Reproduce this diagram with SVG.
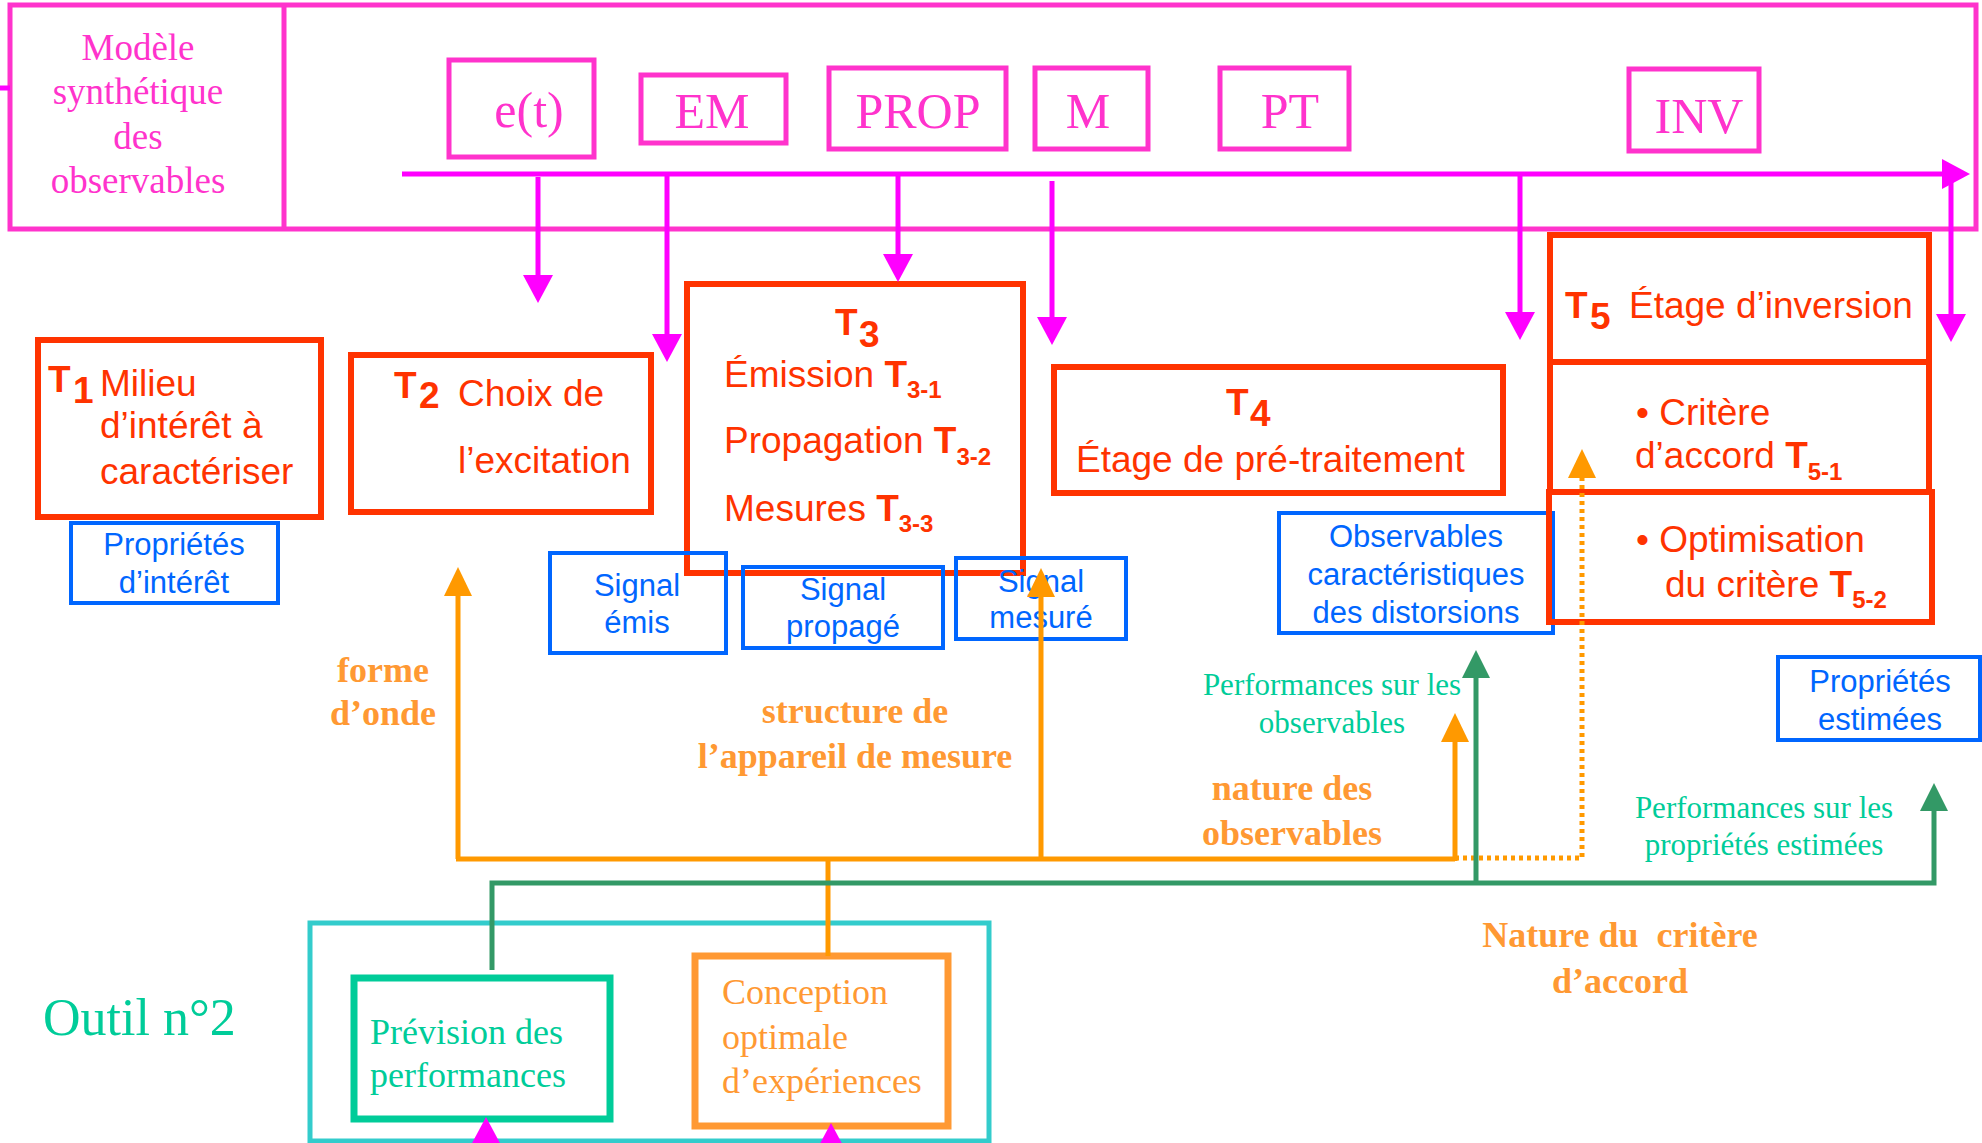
<svg xmlns="http://www.w3.org/2000/svg" width="1982" height="1143" viewBox="0 0 1982 1143">
<style>
.pk{fill:none;stroke:#FF33CC;stroke-width:5}
.pkt{font-family:"Liberation Serif","Times New Roman",serif;fill:#FF33CC;font-size:50px;text-anchor:middle}
.mod{font-family:"Liberation Serif","Times New Roman",serif;fill:#FF33CC;font-size:37px;text-anchor:middle}
.red{fill:none;stroke:#FF3300;stroke-width:6}
.rt{font-family:"Liberation Sans",Arial,sans-serif;fill:#FF3300;font-size:37px}
.b{font-weight:bold}
.blue{fill:none;stroke:#0066FF;stroke-width:4}
.bt{font-family:"Liberation Sans",Arial,sans-serif;fill:#0066FF;font-size:31px;text-anchor:middle}
.ol{font-family:"Liberation Serif","Times New Roman",serif;font-weight:bold;fill:#FF9933;font-size:36px;text-anchor:middle}
.gt{font-family:"Liberation Serif","Times New Roman",serif;fill:#00CC99;font-size:31px;text-anchor:middle}
.mg{fill:none;stroke:#FF00FF;stroke-width:5}
.or{fill:none;stroke:#FF9900;stroke-width:5}
.gr{fill:none;stroke:#339966;stroke-width:5}
</style>
<defs>
<marker id="am" viewBox="0 0 28 30" markerUnits="userSpaceOnUse" markerWidth="28" markerHeight="30" refX="8" refY="15" orient="auto"><path d="M0,0 L28,15 L0,30 z" fill="#FF00FF"/></marker>
<marker id="ao" viewBox="0 0 29 28" markerUnits="userSpaceOnUse" markerWidth="29" markerHeight="28" refX="9" refY="14" orient="auto"><path d="M0,0 L29,14 L0,28 z" fill="#FF9900"/></marker>
<marker id="ag" viewBox="0 0 28 28" markerUnits="userSpaceOnUse" markerWidth="28" markerHeight="28" refX="8" refY="14" orient="auto"><path d="M0,0 L28,14 L0,28 z" fill="#339966"/></marker>
</defs>
<rect width="1982" height="1143" fill="#FFFFFF"/>

<g id="modele">
<rect class="pk" x="10" y="5" width="1966" height="224"/>
<line class="pk" x1="284" y1="5" x2="284" y2="229"/>
<text class="mod"><tspan x="138" y="60">Modèle</tspan><tspan x="138" y="104">synthétique</tspan><tspan x="138" y="149">des</tspan><tspan x="138" y="193">observables</tspan></text>
</g>
<g id="et"><rect class="pk" x="449" y="60" width="145" height="97"/><text class="pkt" x="529" y="127">e(t)</text></g>
<g id="em"><rect class="pk" x="641" y="75" width="145" height="68"/><text class="pkt" x="712" y="128">EM</text></g>
<g id="prop"><rect class="pk" x="829" y="68" width="177" height="81"/><text class="pkt" x="918" y="128">PROP</text></g>
<g id="m"><rect class="pk" x="1035" y="68" width="113" height="81"/><text class="pkt" x="1088" y="128">M</text></g>
<g id="pt"><rect class="pk" x="1220" y="68" width="129" height="81"/><text class="pkt" x="1290" y="128">PT</text></g>
<g id="inv"><rect class="pk" x="1629" y="69" width="130" height="82"/><text class="pkt" x="1699" y="133">INV</text></g>

<g id="t1">
<rect class="red" x="38" y="340" width="283" height="177"/>
<text class="rt b" x="48" y="392" font-size="41">T</text><text class="rt b" x="73" y="403" font-size="26">1</text>
<text class="rt"><tspan x="100" y="396">Milieu</tspan><tspan x="100" y="438">d’intérêt à</tspan><tspan x="100" y="484">caractériser</tspan></text>
</g>
<g id="prop-interet"><rect class="blue" x="71" y="523" width="207" height="80"/><text class="bt"><tspan x="174" y="555">Propriétés</tspan><tspan x="174" y="593">d’intérêt</tspan></text></g>

<g id="t2">
<rect class="red" x="351" y="355" width="300" height="157"/>
<text class="rt b" x="394" y="398" font-size="41">T</text><text class="rt b" x="419" y="408" font-size="26">2</text>
<text class="rt"><tspan x="458" y="406">Choix de</tspan><tspan x="458" y="473">l’excitation</tspan></text>
</g>

<g id="t3">
<rect class="red" x="687" y="284" width="336" height="289"/>
<text class="rt b" x="835" y="335" font-size="41">T</text><text class="rt b" x="859" y="347" font-size="26">3</text>
<text class="rt" x="724" y="387">Émission <tspan class="b">T</tspan><tspan class="b" font-size="24" dy="11">3-1</tspan></text>
<text class="rt" x="724" y="453">Propagation <tspan class="b">T</tspan><tspan class="b" font-size="24" dy="12">3-2</tspan></text>
<text class="rt" x="724" y="521">Mesures <tspan class="b">T</tspan><tspan class="b" font-size="24" dy="11">3-3</tspan></text>
</g>
<g id="signal-emis"><rect class="blue" x="550" y="553" width="176" height="100"/><text class="bt"><tspan x="637" y="596">Signal</tspan><tspan x="637" y="633">émis</tspan></text></g>
<g id="signal-propage"><rect class="blue" x="743" y="567" width="200" height="81"/><text class="bt"><tspan x="843" y="600">Signal</tspan><tspan x="843" y="637">propagé</tspan></text></g>
<g id="signal-mesure"><rect class="blue" x="956" y="558" width="170" height="81"/><text class="bt"><tspan x="1041" y="592">Signal</tspan><tspan x="1041" y="628">mesuré</tspan></text></g>

<g id="t4">
<rect class="red" x="1054" y="367" width="449" height="126"/>
<text class="rt b" x="1226" y="415" font-size="41">T</text><text class="rt b" x="1250" y="426" font-size="26">4</text>
<text class="rt" x="1076" y="472">Étage de pré-traitement</text>
</g>
<g id="observables"><rect class="blue" x="1279" y="513" width="274" height="120"/><text class="bt"><tspan x="1416" y="547">Observables</tspan><tspan x="1416" y="585">caractéristiques</tspan><tspan x="1416" y="623">des distorsions</tspan></text></g>

<g id="t5">
<rect class="red" x="1550" y="235" width="379" height="127"/>
<text class="rt b" x="1565" y="318" font-size="41">T</text><text class="rt b" x="1590" y="329" font-size="26">5</text>
<text class="rt" x="1629" y="318">Étage d’inversion</text>
</g>
<g id="t5-1">
<rect class="red" x="1550" y="362" width="379" height="130"/>
<text class="rt" x="1636" y="425">• Critère</text>
<text class="rt" x="1635" y="468">d’accord <tspan class="b">T</tspan><tspan class="b" font-size="24" dy="12">5-1</tspan></text>
</g>
<g id="t5-2">
<rect class="red" x="1549" y="492" width="383" height="130"/>
<text class="rt" x="1636" y="552">• Optimisation</text>
<text class="rt" x="1665" y="597">du critère <tspan class="b">T</tspan><tspan class="b" font-size="24" dy="11">5-2</tspan></text>
</g>
<g id="prop-estimees"><rect class="blue" x="1778" y="657" width="202" height="83"/><text class="bt"><tspan x="1880" y="692">Propriétés</tspan><tspan x="1880" y="730">estimées</tspan></text></g>

<g id="outil">
<rect fill="none" stroke="#33CCCC" stroke-width="5" x="310" y="923" width="679" height="218"/>
<text x="43" y="1035" font-family="Liberation Serif, Times New Roman, serif" font-size="52" fill="#00CC99">Outil n°2</text>
</g>
<g id="prevision">
<rect fill="none" stroke="#00CC99" stroke-width="7" x="354" y="978" width="256" height="141"/>
<text font-family="Liberation Serif, Times New Roman, serif" font-size="36" fill="#00CC99"><tspan x="370" y="1044">Prévision des</tspan><tspan x="370" y="1087">performances</tspan></text>
</g>
<g id="conception">
<rect fill="none" stroke="#FF9933" stroke-width="7" x="695" y="956" width="253" height="170"/>
<text font-family="Liberation Serif, Times New Roman, serif" font-size="36" fill="#FF9933"><tspan x="722" y="1004">Conception</tspan><tspan x="722" y="1049">optimale</tspan><tspan x="722" y="1093">d’expériences</tspan></text>
</g>

<g id="connectors">
<line class="mg" x1="0" y1="88" x2="10" y2="88"/>
<path class="mg" d="M402,174 H1950" marker-end="url(#am)"/>
<path class="mg" d="M538,177 V283" marker-end="url(#am)"/>
<path class="mg" d="M667,174 V342" marker-end="url(#am)"/>
<path class="mg" d="M898,174 V262" marker-end="url(#am)"/>
<path class="mg" d="M1052,181 V325" marker-end="url(#am)"/>
<path class="mg" d="M1520,174 V320" marker-end="url(#am)"/>
<path class="mg" d="M1951,182 V322" marker-end="url(#am)"/>
<path class="mg" d="M486,1150 V1137" marker-end="url(#am)"/>
<path class="mg" d="M831,1150 V1143" marker-end="url(#am)"/>

<path class="or" d="M458,859 V587" marker-end="url(#ao)"/>
<path class="or" d="M456,859 H1455"/>
<path class="or" d="M1455,861 V733" marker-end="url(#ao)"/>
<path class="or" d="M1041,859 V588" marker-end="url(#ao)"/>
<path class="or" d="M828,859 V956"/>
<path class="or" d="M1455,858 H1582 V469" stroke-width="4" stroke-dasharray="4 4" marker-end="url(#ao)"/>

<path class="gr" d="M492,970 V883 H1934 V803" marker-end="url(#ag)"/>
<path class="gr" d="M1476,883 V670" marker-end="url(#ag)"/>
</g>

<g id="labels">
<text class="ol"><tspan x="383" y="682">forme</tspan><tspan x="383" y="725">d’onde</tspan></text>
<text class="ol"><tspan x="855" y="723">structure de</tspan><tspan x="855" y="768">l’appareil de mesure</tspan></text>
<text class="ol"><tspan x="1292" y="800">nature des</tspan><tspan x="1292" y="845">observables</tspan></text>
<text class="ol"><tspan x="1620" y="947">Nature du&#160; critère</tspan><tspan x="1620" y="993">d’accord</tspan></text>
<text class="gt"><tspan x="1332" y="695">Performances sur les</tspan><tspan x="1332" y="733">observables</tspan></text>
<text class="gt"><tspan x="1764" y="818">Performances sur les</tspan><tspan x="1764" y="855">propriétés estimées</tspan></text>
</g>
</svg>
